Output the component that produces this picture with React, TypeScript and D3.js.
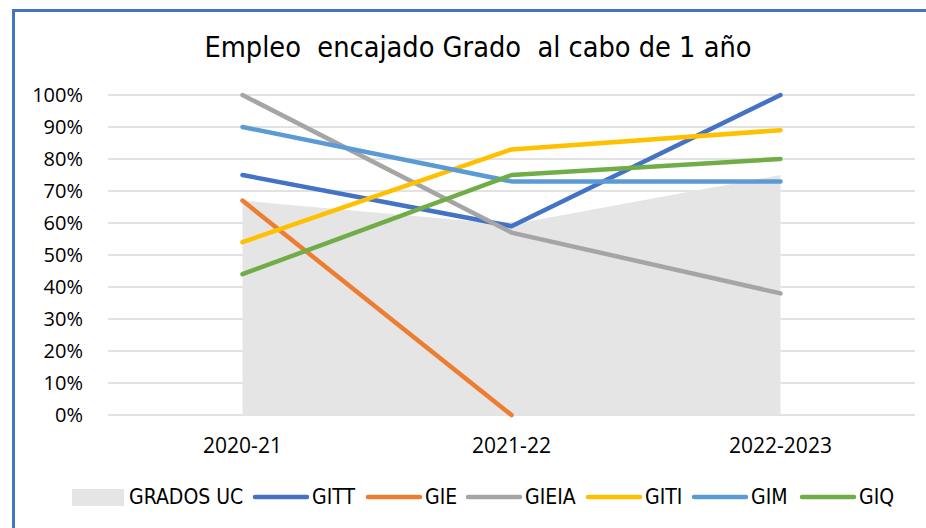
import React, { useEffect, useRef } from 'react';
import * as d3 from 'd3';

const categories = ['2020-21', '2021-22', '2022-2023'];
const gradosUC = [67, 59.5, 75];
const gitt = [75, 59, 100];
const gie = [67, 0, null];
const gieia = [100, 57, 38];
const giti = [54, 83, 89];
const gim = [90, 73, 73];
const giq = [44, 75, 80];
const yTicks = [0, 10, 20, 30, 40, 50, 60, 70, 80, 90, 100];

const lineSeries = [
    { name: 'GITT', values: gitt, color: '#4472C4' },
    { name: 'GIE', values: gie, color: '#ED7D31' },
    { name: 'GIEIA', values: gieia, color: '#A5A5A5' },
    { name: 'GITI', values: giti, color: '#FFC000' },
    { name: 'GIM', values: gim, color: '#5B9BD5' },
    { name: 'GIQ', values: giq, color: '#70AD47' }
];

const narrow = '"Liberation Sans Narrow", "DejaVu Sans Condensed", sans-serif';
const tickFont = '"Open Sans", sans-serif';

const App = () => {
    const ref = useRef<SVGSVGElement | null>(null);

    useEffect(() => {
        if (!ref.current) return;
        const width = 926;
        const height = 528;
        const svg = d3.select(ref.current);
        svg.selectAll('*').remove();

        svg.append('rect').attr('width', width).attr('height', height).attr('fill', '#fff');

        // frame (only top and left visible)
        svg.append('path')
            .attr('d', `M13.5,${height + 5} L13.5,10.5 L${width + 5},10.5`)
            .attr('fill', 'none')
            .attr('stroke', '#4472C4')
            .attr('stroke-width', 3);

        svg.append('text')
            .attr('x', 478)
            .attr('y', 57)
            .attr('text-anchor', 'middle')
            .attr('textLength', 547)
            .attr('lengthAdjust', 'spacingAndGlyphs')
            .style('font-family', narrow)
            .style('font-size', '28px')
            .style('white-space', 'pre')
            .attr('fill', '#000')
            .text('Empleo  encajado Grado  al cabo de 1 año');

        const x = d3.scalePoint<string>().domain(categories).range([108, 915]).padding(0.5);
        const y = d3.scaleLinear().domain([0, 100]).range([415, 95]);

        // gridlines
        svg.append('g')
            .selectAll('line')
            .data(yTicks)
            .enter()
            .append('line')
            .attr('x1', 108)
            .attr('x2', 915)
            .attr('y1', d => y(d))
            .attr('y2', d => y(d))
            .attr('stroke', '#d9d9d9')
            .attr('stroke-width', 1.5);

        svg.append('g')
            .selectAll('text')
            .data(yTicks)
            .enter()
            .append('text')
            .attr('x', 83)
            .attr('y', d => y(d))
            .attr('dy', '0.35em')
            .attr('text-anchor', 'end')
            .style('font-family', tickFont)
            .style('font-size', '20px')
            .attr('fill', '#000')
            .text(d => d + '%');

        // area GRADOS UC
        const area = d3.area<number>()
            .x((d, i) => x(categories[i]) as number)
            .y0(y(0))
            .y1(d => y(d));
        svg.append('path')
            .attr('d', area(gradosUC))
            .attr('fill', '#e5e5e5');

        const line = d3.line<number | null>()
            .defined(d => d !== null)
            .x((d, i) => x(categories[i]) as number)
            .y(d => y(d as number));

        lineSeries.forEach(s => {
            svg.append('path')
                .attr('d', line(s.values))
                .attr('fill', 'none')
                .attr('stroke', s.color)
                .attr('stroke-width', 4.5)
                .attr('stroke-linecap', 'round')
                .attr('stroke-linejoin', 'round');
        });

        // x labels
        svg.append('g')
            .selectAll('text')
            .data(categories)
            .enter()
            .append('text')
            .attr('x', d => x(d) as number)
            .attr('y', 446)
            .attr('dy', '0.35em')
            .attr('text-anchor', 'middle')
            .style('font-family', tickFont)
            .style('font-size', '21px')
            .attr('fill', '#000')
            .text(d => d);

        // legend
        const ly = 497;
        const legend = svg.append('g').style('font-family', narrow).style('font-size', '21px');
        legend.append('rect').attr('x', 72).attr('y', ly - 8).attr('width', 52).attr('height', 17).attr('fill', '#e5e5e5');
        legend.append('text').attr('x', 129).attr('y', ly).attr('dy', '0.35em').text('GRADOS UC');
        const starts = [253, 366, 466, 586, 692, 800];
        lineSeries.forEach((s, i) => {
            const lx = starts[i];
            legend.append('line')
                .attr('x1', lx + 2).attr('x2', lx + 54)
                .attr('y1', ly).attr('y2', ly)
                .attr('stroke', s.color)
                .attr('stroke-width', 4.5)
                .attr('stroke-linecap', 'round');
            legend.append('text').attr('x', lx + 59).attr('y', ly).attr('dy', '0.35em').text(s.name);
        });
    }, []);

    return (
        <svg ref={ref} width={926} height={528} style={{ position: 'absolute', left: 0, top: 0 }} />
    );
};

export default App;
